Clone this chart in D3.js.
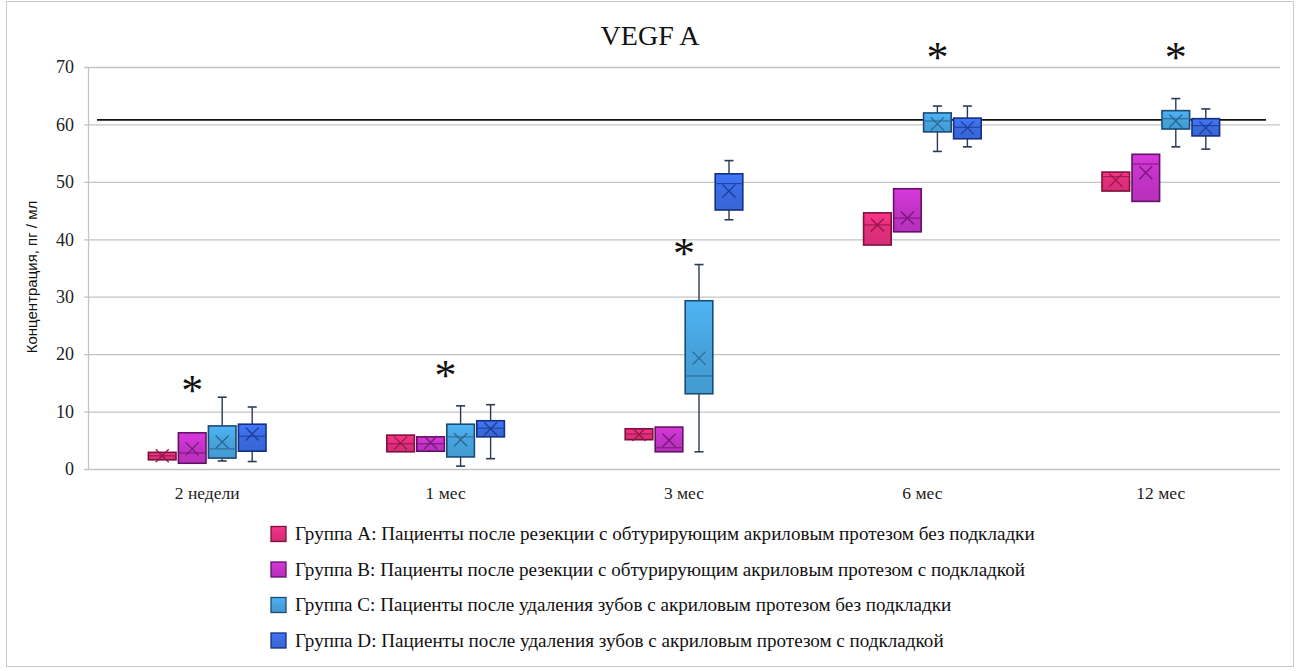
<!DOCTYPE html>
<html>
<head>
<meta charset="utf-8">
<script src="https://cdn.jsdelivr.net/npm/d3@7"></script>
<style>
  body { margin: 0; background: #fff; }
  svg { display: block; }
</style>
</head>
<body>
<script>
// categories (time points) and groups
const categories = ["2 недели", "1 мес", "3 мес", "6 мес", "12 мес"];
const groups = ["A", "B", "C", "D"];
const groupLabels = [
  "Группа A: Пациенты после резекции с обтурирующим акриловым протезом без подкладки",
  "Группа B: Пациенты после резекции с обтурирующим акриловым протезом с подкладкой",
  "Группа C: Пациенты после удаления зубов с акриловым протезом без подкладки",
  "Группа D: Пациенты после удаления зубов с акриловым протезом с подкладкой"
];
const yTicks = [0, 10, 20, 30, 40, 50, 60, 70];

// box stats per time point: [min, q1, median, q3, max, mean]
const groupA = [
  [1.6, 1.6, 2.3, 2.9, 2.9, 2.3],
  [3.0, 3.0, 4.4, 5.9, 5.9, 4.5],
  [5.1, 5.1, 6.1, 7.0, 7.0, 6.0],
  [39.0, 39.0, 42.5, 44.6, 44.6, 42.5],
  [48.4, 48.4, 50.9, 51.7, 51.7, 50.3]
];
const groupB = [
  [1.0, 1.0, 2.8, 6.3, 6.3, 3.5],
  [3.1, 3.1, 4.4, 5.6, 5.6, 4.6],
  [3.0, 3.0, 3.7, 7.3, 7.3, 5.0],
  [41.3, 41.3, 43.7, 48.8, 48.8, 43.7],
  [46.6, 46.6, 53.1, 54.8, 54.8, 51.6]
];
const groupC = [
  [1.4, 1.9, 3.5, 7.5, 12.5, 4.7],
  [0.5, 2.1, 5.6, 7.8, 11.0, 5.1],
  [3.0, 13.1, 16.2, 29.3, 35.6, 19.3],
  [55.3, 58.7, 60.6, 62.0, 63.2, 60.1],
  [56.1, 59.2, 61.0, 62.4, 64.5, 60.6]
];
const groupD = [
  [1.3, 3.1, 5.7, 7.8, 10.8, 6.1],
  [1.8, 5.6, 7.1, 8.4, 11.2, 7.0],
  [43.4, 45.1, 49.7, 51.4, 53.7, 48.4],
  [56.1, 57.5, 59.5, 61.1, 63.2, 59.4],
  [55.7, 58.0, 59.8, 61.0, 62.7, 59.4]
];
const groupData = [groupA, groupB, groupC, groupD];

// reference level line
const refLevel = 60.8;

// significance marks: category, group above which it sits (null = centre), level
const starCats = ["2 недели", "1 мес", "3 мес", "6 мес", "12 мес"];
const starGroups = ["B", null, null, "C", "C"];
const starLevels = [14.6, 17.2, 38.5, 72.6, 72.6];

const fills = ["#e12f7c", "#c233c6", "#47a3dc", "#3a6be0"];
const strokes = ["#7e1038", "#621266", "#1b4a74", "#152f84"];
const marks = ["#921848", "#761878", "#2a6694", "#203c96"];

const width = 1298, height = 671;
const margin = {top: 67, right: 18, bottom: 202, left: 88};

const svg = d3.select("body").append("svg")
  .attr("width", width)
  .attr("height", height);

// outer frame
svg.append("rect")
  .attr("x", 6.5).attr("y", 1.5)
  .attr("width", 1287).attr("height", 665)
  .attr("fill", "none")
  .attr("stroke", "#c8c8c8");

const defs = svg.append("defs");
fills.forEach((c, i) => {
  const g = defs.append("linearGradient")
    .attr("id", "grad" + i)
    .attr("x1", 0).attr("y1", 0).attr("x2", 0).attr("y2", 1);
  g.append("stop").attr("offset", "0%").attr("stop-color", d3.color(c).brighter(0.3));
  g.append("stop").attr("offset", "50%").attr("stop-color", c);
  g.append("stop").attr("offset", "100%").attr("stop-color", d3.color(c).darker(0.15));
});

const x = d3.scaleBand()
  .domain(categories)
  .range([margin.left, width - margin.right]);

const xg = d3.scaleBand()
  .domain(groups)
  .range([-60, 60])
  .paddingInner(0.08)
  .paddingOuter(0.04);

const y = d3.scaleLinear()
  .domain([0, 70])
  .range([height - margin.bottom, margin.top]);

// grid
svg.append("g")
  .selectAll("line")
  .data(yTicks)
  .enter().append("line")
  .attr("x1", margin.left - 4)
  .attr("x2", width - margin.right)
  .attr("y1", d => y(d) + 0.5)
  .attr("y2", d => y(d) + 0.5)
  .attr("stroke", "#c4c4c4")
  .attr("stroke-width", 1.3);

svg.append("line")
  .attr("x1", margin.left + 0.5).attr("x2", margin.left + 0.5)
  .attr("y1", y(70)).attr("y2", y(0))
  .attr("stroke", "#c4c4c4")
  .attr("stroke-width", 1.3);

// y axis labels
const yAxis = d3.axisLeft(y).tickValues(yTicks).tickSize(0).tickPadding(14);
const ya = svg.append("g")
  .attr("transform", "translate(" + margin.left + ",0)")
  .call(yAxis);
ya.select(".domain").remove();
ya.selectAll("text")
  .attr("font-family", "Liberation Serif, Times New Roman, serif")
  .attr("font-size", 18)
  .attr("fill", "#222");

svg.append("text")
  .attr("transform", "translate(37,277) rotate(-90)")
  .attr("text-anchor", "middle")
  .attr("font-family", "Liberation Sans, Arial, sans-serif")
  .attr("font-size", 15)
  .attr("fill", "#111")
  .text("Концентрация, пг / мл");

// x axis labels
const xAxis = d3.axisBottom(x).tickSize(0).tickPadding(18);
const xa = svg.append("g")
  .attr("transform", "translate(0," + y(0) + ")")
  .call(xAxis);
xa.select(".domain").remove();
xa.selectAll("text")
  .attr("font-family", "Liberation Serif, Times New Roman, serif")
  .attr("font-size", 17.5)
  .attr("fill", "#222");

// title
svg.append("text")
  .attr("x", 650).attr("y", 45)
  .attr("text-anchor", "middle")
  .attr("font-family", "Liberation Serif, Times New Roman, serif")
  .attr("font-size", 28)
  .attr("fill", "#111")
  .text("VEGF A");

// reference line
svg.append("line")
  .attr("x1", 97).attr("x2", 1266)
  .attr("y1", y(refLevel)).attr("y2", y(refLevel))
  .attr("stroke", "#111")
  .attr("stroke-width", 1.8);

// boxes
const bw = xg.bandwidth();
const boxes = [];
groupData.forEach((series, gi) => {
  series.forEach((s, ci) => {
    boxes.push({gi: gi, cat: categories[ci], min: s[0], q1: s[1], med: s[2], q3: s[3], max: s[4], mean: s[5]});
  });
});

const box = svg.append("g")
  .selectAll("g")
  .data(boxes)
  .enter().append("g")
  .attr("transform", d => "translate(" + (x(d.cat) + x.bandwidth() / 2 + xg(groups[d.gi])) + ",0)");

// whiskers
box.filter(d => d.max > d.q3).each(function(d) {
  const g = d3.select(this);
  g.append("line")
    .attr("x1", bw / 2).attr("x2", bw / 2)
    .attr("y1", y(d.max)).attr("y2", y(d.q3))
    .attr("stroke", "#2c3a55").attr("stroke-width", 1.4);
  g.append("line")
    .attr("x1", bw / 2 - 4.5).attr("x2", bw / 2 + 4.5)
    .attr("y1", y(d.max)).attr("y2", y(d.max))
    .attr("stroke", "#2c3a55").attr("stroke-width", 1.6);
});
box.filter(d => d.min < d.q1).each(function(d) {
  const g = d3.select(this);
  g.append("line")
    .attr("x1", bw / 2).attr("x2", bw / 2)
    .attr("y1", y(d.q1)).attr("y2", y(d.min))
    .attr("stroke", "#2c3a55").attr("stroke-width", 1.4);
  g.append("line")
    .attr("x1", bw / 2 - 4.5).attr("x2", bw / 2 + 4.5)
    .attr("y1", y(d.min)).attr("y2", y(d.min))
    .attr("stroke", "#2c3a55").attr("stroke-width", 1.6);
});

box.append("rect")
  .attr("x", 0)
  .attr("y", d => y(d.q3))
  .attr("width", bw)
  .attr("height", d => y(d.q1) - y(d.q3))
  .attr("fill", d => "url(#grad" + d.gi + ")")
  .attr("stroke", d => strokes[d.gi])
  .attr("stroke-width", 1.6);

// median
box.append("line")
  .attr("x1", 0).attr("x2", bw)
  .attr("y1", d => y(d.med)).attr("y2", d => y(d.med))
  .attr("stroke", d => marks[d.gi])
  .attr("stroke-width", 1.2)
  .attr("stroke-opacity", 0.85);

// mean cross
box.append("path")
  .attr("d", d => {
    const cx = bw / 2, cy = y(d.mean), r = 6.5;
    return "M" + (cx - r) + "," + (cy - r) + "L" + (cx + r) + "," + (cy + r) +
      "M" + (cx - r) + "," + (cy + r) + "L" + (cx + r) + "," + (cy - r);
  })
  .attr("stroke", d => marks[d.gi])
  .attr("stroke-width", 1.3)
  .attr("fill", "none");

// asterisks
svg.append("g")
  .selectAll("text")
  .data(starCats)
  .enter().append("text")
  .attr("x", (d, i) => x(d) + x.bandwidth() / 2 + (starGroups[i] ? xg(starGroups[i]) + bw / 2 : 0))
  .attr("y", (d, i) => y(starLevels[i]) + 20)
  .attr("text-anchor", "middle")
  .attr("font-family", "Liberation Serif, Times New Roman, serif")
  .attr("font-size", 44)
  .attr("fill", "#111")
  .text("*");

// legend
const legend = svg.append("g")
  .selectAll("g")
  .data(groupLabels)
  .enter().append("g")
  .attr("transform", (d, i) => "translate(271," + (534 + i * 35.5) + ")");

legend.append("rect")
  .attr("x", 0).attr("y", -7.5)
  .attr("width", 15).attr("height", 15)
  .attr("fill", (d, i) => "url(#grad" + i + ")")
  .attr("stroke", (d, i) => strokes[i])
  .attr("stroke-width", 1.3);

legend.append("text")
  .attr("x", 24).attr("y", 6)
  .attr("font-family", "Liberation Serif, Times New Roman, serif")
  .attr("font-size", 19.1)
  .attr("fill", "#111")
  .text(d => d);
</script>
</body>
</html>
